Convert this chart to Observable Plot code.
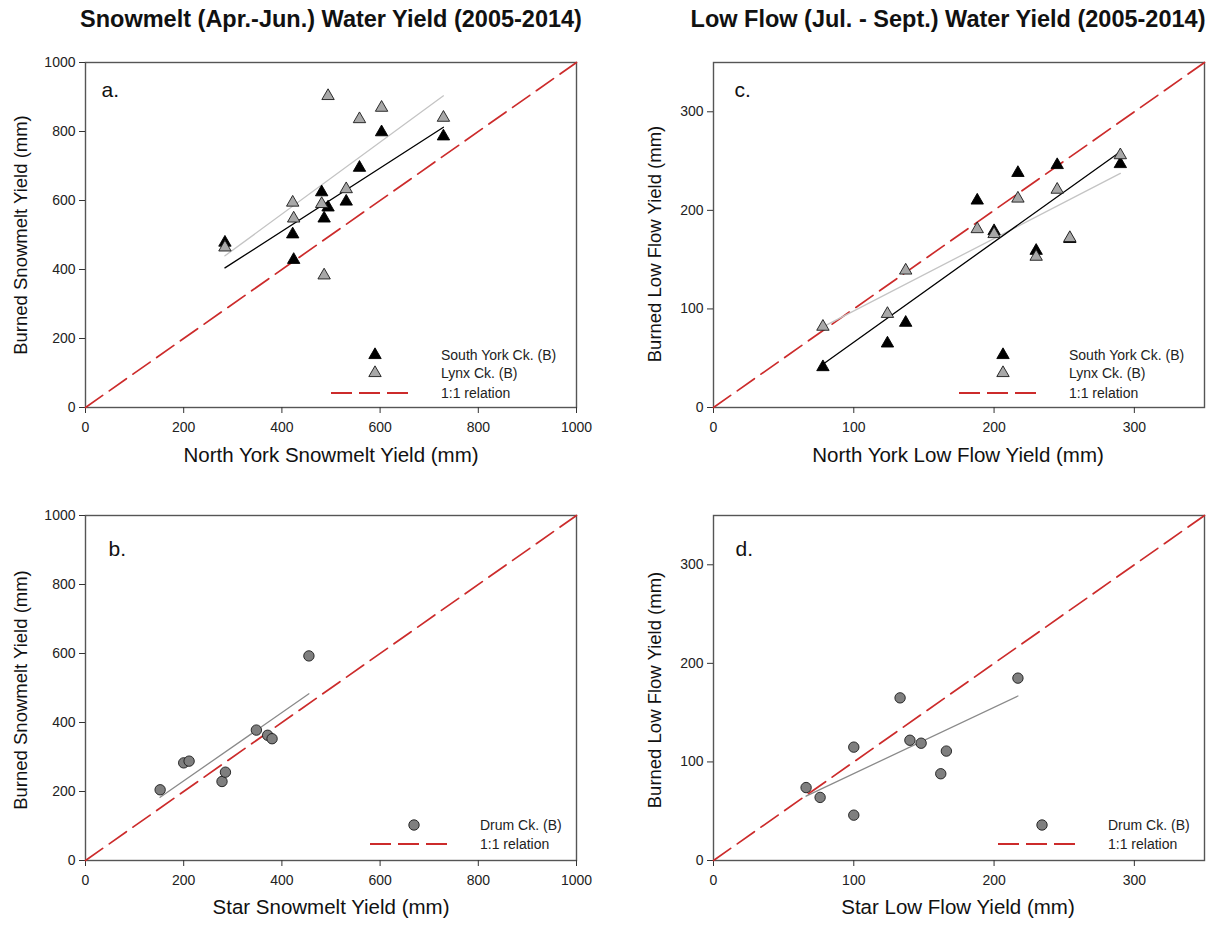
<!DOCTYPE html>
<html>
<head>
<meta charset="utf-8">
<script src="https://cdn.jsdelivr.net/npm/d3@7"></script>
<script src="https://cdn.jsdelivr.net/npm/@observablehq/plot@0.6"></script>
<style>
  html, body { margin: 0; padding: 0; background: #fff; }
  #page { position: relative; width: 1219px; height: 926px; overflow: hidden;
          font-family: "Liberation Sans", Arial, sans-serif; color: #111; }
  .title { position: absolute; top: 7px; font-weight: bold; font-size: 23.5px; line-height: 24px;
           white-space: nowrap; transform: translateX(-50%); }
  .axis-title { position: absolute; font-size: 20.5px; line-height: 22px; white-space: nowrap;
                transform: translate(-50%, -50%); }
  .axis-title.y { font-size: 18.5px; transform: translate(-50%, -50%) rotate(-90deg); }
  .panel { position: absolute; }
</style>
</head>
<body>
<div id="page"></div>
<script>
// ---- Snowmelt (Apr.-Jun.) yields, mm ----
const northYorkSnow = [284, 422, 424, 481, 486, 494, 531, 558, 603, 729];
const southYorkSnow = [478, 502, 428, 624, 548, 580, 597, 695, 798, 786];
const lynxSnow      = [464, 594, 548, 590, 383, 903, 633, 836, 869, 840];

const starSnow = [152, 200, 211, 278, 285, 348, 371, 380, 455];
const drumSnow = [205, 283, 288, 229, 256, 378, 363, 353, 593];

// ---- Low flow (Jul.-Sept.) yields, mm ----
const northYorkLow = [78, 124, 137, 188, 200, 217, 230, 245, 254, 290];
const southYorkLow = [41, 65, 86, 210, 179, 238, 159, 246, 171, 247];
const lynxLow      = [82, 95, 139, 181, 176, 212, 153, 221, 172, 256];

const starLow = [66, 76, 100, 100, 133, 140, 148, 162, 166, 217];
const drumLow = [74, 64, 115, 46, 165, 122, 119, 88, 111, 185];

// ---- axes ----
const snowDomain = [0, 1000];
const snowTicks = [0, 200, 400, 600, 800, 1000];
const lowDomain = [0, 350];
const lowTicks = [0, 100, 200, 300];

// ---- text ----
const titles = ["Snowmelt (Apr.-Jun.) Water Yield (2005-2014)", "Low Flow (Jul. - Sept.) Water Yield (2005-2014)"];
const panelLetters = ["a.", "b.", "c.", "d."];
const yTitles = ["Burned Snowmelt Yield (mm)", "Burned Snowmelt Yield (mm)", "Burned Low Flow Yield (mm)", "Burned Low Flow Yield (mm)"];
const xTitles = ["North York Snowmelt Yield (mm)", "Star Snowmelt Yield (mm)", "North York Low Flow Yield (mm)", "Star Low Flow Yield (mm)"];
const seriesNames = ["South York Ck. (B)", "Lynx Ck. (B)", "Drum Ck. (B)", "1:1 relation"];

const RED = "#cc2b2b";
const BLACK_TRI = {fill: "#000", stroke: "#000"};
const GRAY_TRI = {fill: "#a8a8a8", stroke: "#1a1a1a"};
const GRAY_DOT = {fill: "#7f7f7f", stroke: "#1a1a1a"};

const pairs = (xs, ys) => xs.map((x, i) => ({x, y: ys[i]}));

const page = document.getElementById("page");

function addDiv(cls, text, left, top) {
  const d = document.createElement("div");
  d.className = cls;
  d.textContent = text;
  d.style.left = left + "px";
  d.style.top = top + "px";
  page.appendChild(d);
  return d;
}

// Legend drawn in the lower-right corner of the frame
function addLegend(svg, frame, entries, layout) {
  const g = d3.select(svg).append("g")
    .attr("font-size", 14)
    .attr("text-anchor", "start")
    .attr("font-family", "'Liberation Sans', Arial, sans-serif");
  entries.forEach((e, i) => {
    const cy = frame.bottom - layout.rows[i];
    if (e.kind === "dash") {
      g.append("line")
        .attr("x1", frame.right - layout.dash[0]).attr("x2", frame.right - layout.dash[1])
        .attr("y1", cy).attr("y2", cy)
        .attr("stroke", RED).attr("stroke-width", 1.8).attr("stroke-dasharray", "21,7");
    } else {
      g.append("path")
        .attr("transform", `translate(${frame.right - layout.symbol},${cy})`)
        .attr("d", d3.symbol(e.kind === "triangle" ? d3.symbolTriangle : d3.symbolCircle, e.r * e.r * Math.PI)())
        .attr("fill", e.style.fill).attr("stroke", e.style.stroke).attr("stroke-width", 0.9);
    }
    g.append("text")
      .attr("x", frame.right - layout.text).attr("y", cy).attr("dy", "0.35em")
      .attr("text-anchor", "start")
      .attr("fill", "#222").text(e.label);
  });
}

function panel({left, top, width, height, margin, domain, ticks, series, regressions, letter, letterOffset, legend, legendLayout}) {
  const marks = [
    Plot.frame({stroke: "#555", strokeWidth: 1.4}),
    Plot.axisX(ticks, {tickSize: 6, tickPadding: 9, tickFormat: "d", label: null, stroke: "#333", fontSize: 14}),
    Plot.axisY(ticks, {tickSize: 6, tickPadding: 4, tickFormat: "d", label: null, stroke: "#333", fontSize: 14}),
    // 1:1 reference line across the full axis range
    Plot.line(domain, {x: d => d, y: d => d, stroke: RED, strokeWidth: 1.7, strokeDasharray: "21,8"}),
    ...regressions.map(r => Plot.linearRegressionY(r.data, {x: "x", y: "y", stroke: r.stroke, strokeWidth: 1.3, ci: 0})),
    ...series.map(s => Plot.dot(s.data, {x: "x", y: "y", symbol: s.symbol, r: s.r, fill: s.style.fill, stroke: s.style.stroke, strokeWidth: 0.9})),
    Plot.text([letter], {text: d => d, frameAnchor: "top-left", dx: letterOffset[0], dy: letterOffset[1], fontSize: 21, textAnchor: "start", fill: "#111"})
  ];
  const svg = Plot.plot({
    width, height,
    marginLeft: margin[0], marginRight: margin[1], marginTop: margin[2], marginBottom: margin[3],
    x: {domain, label: null},
    y: {domain, label: null},
    style: {fontFamily: "'Liberation Sans', Arial, sans-serif", fontSize: "14px", color: "#222", background: "transparent"},
    marks
  });
  svg.classList.add("panel");
  svg.style.left = left + "px";
  svg.style.top = top + "px";
  page.appendChild(svg);
  addLegend(svg, {right: width - margin[1], bottom: height - margin[3]}, legend, legendLayout);
}

const triLayout = {rows: [52, 34, 14], symbol: 201, dash: [245, 165], text: 135};
const dotLayout = {rows: [35, 16], symbol: 162, dash: [206, 126], text: 96};

// a. snowmelt, South York & Lynx vs North York
panel({
  left: 0, top: 40, width: 600, height: 430, margin: [85, 24, 22, 63],
  domain: snowDomain, ticks: snowTicks,
  regressions: [
    {data: pairs(northYorkSnow, lynxSnow), stroke: "#c4c4c4"},
    {data: pairs(northYorkSnow, southYorkSnow), stroke: "#000"}
  ],
  series: [
    {data: pairs(northYorkSnow, southYorkSnow), symbol: "triangle", r: 4.6, style: BLACK_TRI},
    {data: pairs(northYorkSnow, lynxSnow), symbol: "triangle", r: 4.6, style: GRAY_TRI}
  ],
  letter: panelLetters[0], letterOffset: [16, 20],
  legend: [
    {kind: "triangle", r: 4.6, style: BLACK_TRI, label: seriesNames[0]},
    {kind: "triangle", r: 4.6, style: GRAY_TRI, label: seriesNames[1]},
    {kind: "dash", label: seriesNames[3]}
  ],
  legendLayout: triLayout
});

// b. snowmelt, Drum vs Star
panel({
  left: 0, top: 480, width: 600, height: 430, margin: [85, 24, 35, 50],
  domain: snowDomain, ticks: snowTicks,
  regressions: [{data: pairs(starSnow, drumSnow), stroke: "#8a8a8a"}],
  series: [{data: pairs(starSnow, drumSnow), symbol: "circle", r: 5.2, style: GRAY_DOT}],
  letter: panelLetters[1], letterOffset: [23, 26],
  legend: [
    {kind: "circle", r: 5.2, style: GRAY_DOT, label: seriesNames[2]},
    {kind: "dash", label: seriesNames[3]}
  ],
  legendLayout: dotLayout
});

// c. low flow, South York & Lynx vs North York
panel({
  left: 620, top: 40, width: 599, height: 430, margin: [93, 15, 22, 63],
  domain: lowDomain, ticks: lowTicks,
  regressions: [
    {data: pairs(northYorkLow, lynxLow), stroke: "#c4c4c4"},
    {data: pairs(northYorkLow, southYorkLow), stroke: "#000"}
  ],
  series: [
    {data: pairs(northYorkLow, southYorkLow), symbol: "triangle", r: 4.6, style: BLACK_TRI},
    {data: pairs(northYorkLow, lynxLow), symbol: "triangle", r: 4.6, style: GRAY_TRI}
  ],
  letter: panelLetters[2], letterOffset: [21, 20],
  legend: [
    {kind: "triangle", r: 4.6, style: BLACK_TRI, label: seriesNames[0]},
    {kind: "triangle", r: 4.6, style: GRAY_TRI, label: seriesNames[1]},
    {kind: "dash", label: seriesNames[3]}
  ],
  legendLayout: triLayout
});

// d. low flow, Drum vs Star
panel({
  left: 620, top: 480, width: 599, height: 430, margin: [93, 15, 35, 50],
  domain: lowDomain, ticks: lowTicks,
  regressions: [{data: pairs(starLow, drumLow), stroke: "#8a8a8a"}],
  series: [{data: pairs(starLow, drumLow), symbol: "circle", r: 5.2, style: GRAY_DOT}],
  letter: panelLetters[3], letterOffset: [22, 26],
  legend: [
    {kind: "circle", r: 5.2, style: GRAY_DOT, label: seriesNames[2]},
    {kind: "dash", label: seriesNames[3]}
  ],
  legendLayout: dotLayout
});

// headings and axis titles
addDiv("title", titles[0], 331, 7);
addDiv("title", titles[1], 948, 7);

addDiv("axis-title y", yTitles[0], 21, 235);
addDiv("axis-title y", yTitles[1], 21, 690);
addDiv("axis-title y", yTitles[2], 655, 244);
addDiv("axis-title y", yTitles[3], 655, 690);

addDiv("axis-title", xTitles[0], 331, 455);
addDiv("axis-title", xTitles[1], 331, 907);
addDiv("axis-title", xTitles[2], 958, 455);
addDiv("axis-title", xTitles[3], 958, 907);
</script>
</body>
</html>
